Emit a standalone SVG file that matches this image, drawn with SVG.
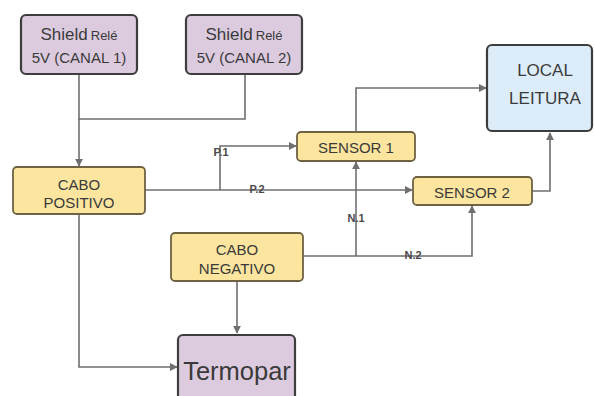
<svg xmlns="http://www.w3.org/2000/svg" width="595" height="396" viewBox="0 0 595 396">
  <style>
    .box { stroke: #3d3d3d; stroke-width: 2.2; }
    .relay { fill: #dccbdf; }
    .cable { fill: #fbe59f; stroke: #6e6242; stroke-width: 1.8; }
    .reader { fill: #dcedf9; }
    .probe { fill: #dccbdf; }
    .t { font-family: "Liberation Sans", Arial, sans-serif; fill: #3a3a3a; text-anchor: middle; }
    .wire { fill: none; stroke: #6f6f6f; stroke-width: 1.6; }
    .tag { font-family: "Liberation Sans", Arial, sans-serif; font-size: 11px; font-weight: bold; fill: #4a4a4a; text-anchor: middle; }
  </style>
  <defs>
    <marker id="arrow" viewBox="0 0 10 10" refX="9" refY="5" markerWidth="8" markerHeight="8" orient="auto" markerUnits="userSpaceOnUse">
      <path d="M0,0 L10,5 L0,10 z" fill="#6f6f6f"/>
    </marker>
  </defs>
  <rect width="595" height="396" fill="#ffffff"/>

  <!-- connectors -->
  <g id="connectors">
    <!-- relay outputs merge into the positive cable -->
    <path class="wire" d="M79,74 V120"/>
    <path class="wire" d="M245,74 V119 H79"/>
    <path class="wire" d="M79,119 V166" marker-end="url(#arrow)"/>
    <!-- P.1 branch to sensor 1 -->
    <path class="wire" d="M220,190 V146 H296" marker-end="url(#arrow)"/>
    <!-- P.2 to sensor 2 -->
    <path class="wire" d="M145,190 H412" marker-end="url(#arrow)"/>
    <!-- sensor outputs to the reading station -->
    <path class="wire" d="M356,132 V88 H486" marker-end="url(#arrow)"/>
    <path class="wire" d="M532,191 H550 V133" marker-end="url(#arrow)"/>
    <!-- negative cable: N.1 and N.2 -->
    <path class="wire" d="M303,256 H472 V206" marker-end="url(#arrow)"/>
    <path class="wire" d="M356,256 V162" marker-end="url(#arrow)"/>
    <!-- cables to thermocouple -->
    <path class="wire" d="M237,281 V333" marker-end="url(#arrow)"/>
    <path class="wire" d="M79,214 V367 H177" marker-end="url(#arrow)"/>
    <text class="tag" x="221" y="156">P.1</text>
    <text class="tag" x="257" y="193">P.2</text>
    <text class="tag" x="356" y="222">N.1</text>
    <text class="tag" x="413" y="259">N.2</text>
  </g>

  <g id="shield1">
    <rect class="box relay" x="21" y="15" width="116" height="59" rx="5"/>
    <text class="t" x="79" y="40"><tspan font-size="17">Shield</tspan><tspan font-size="13" dx="3">Relé</tspan></text>
    <text class="t" x="79" y="63" font-size="15">5V (CANAL 1)</text>
  </g>

  <g id="shield2">
    <rect class="box relay" x="186" y="15" width="116" height="59" rx="5"/>
    <text class="t" x="244" y="40"><tspan font-size="17">Shield</tspan><tspan font-size="13" dx="3">Relé</tspan></text>
    <text class="t" x="244" y="63" font-size="15">5V (CANAL 2)</text>
  </g>

  <g id="cabo-positivo">
    <rect class="cable" x="13" y="167" width="132" height="47" rx="4"/>
    <text class="t" x="79" y="190" font-size="15">CABO</text>
    <text class="t" x="79" y="208" font-size="15">POSITIVO</text>
  </g>

  <g id="sensor1">
    <rect class="cable" x="297" y="132" width="118" height="29" rx="4"/>
    <text class="t" x="356" y="152.5" font-size="15">SENSOR 1</text>
  </g>

  <g id="sensor2">
    <rect class="cable" x="413" y="177" width="119" height="28" rx="4"/>
    <text class="t" x="472" y="197.5" font-size="15">SENSOR 2</text>
  </g>

  <g id="local-leitura">
    <rect class="box reader" x="487" y="45" width="105" height="86" rx="5"/>
    <text class="t" x="545" y="76" font-size="17">LOCAL</text>
    <text class="t" x="545" y="104" font-size="17">LEITURA</text>
  </g>

  <g id="cabo-negativo">
    <rect class="cable" x="171" y="233" width="132" height="48" rx="4"/>
    <text class="t" x="237" y="255" font-size="15">CABO</text>
    <text class="t" x="237" y="274" font-size="15">NEGATIVO</text>
  </g>

  <g id="termopar">
    <rect class="box probe" x="178" y="335" width="117" height="70" rx="5"/>
    <text class="t" x="237" y="380" font-size="25.5" fill="#2e2a30">Termopar</text>
  </g>
</svg>
